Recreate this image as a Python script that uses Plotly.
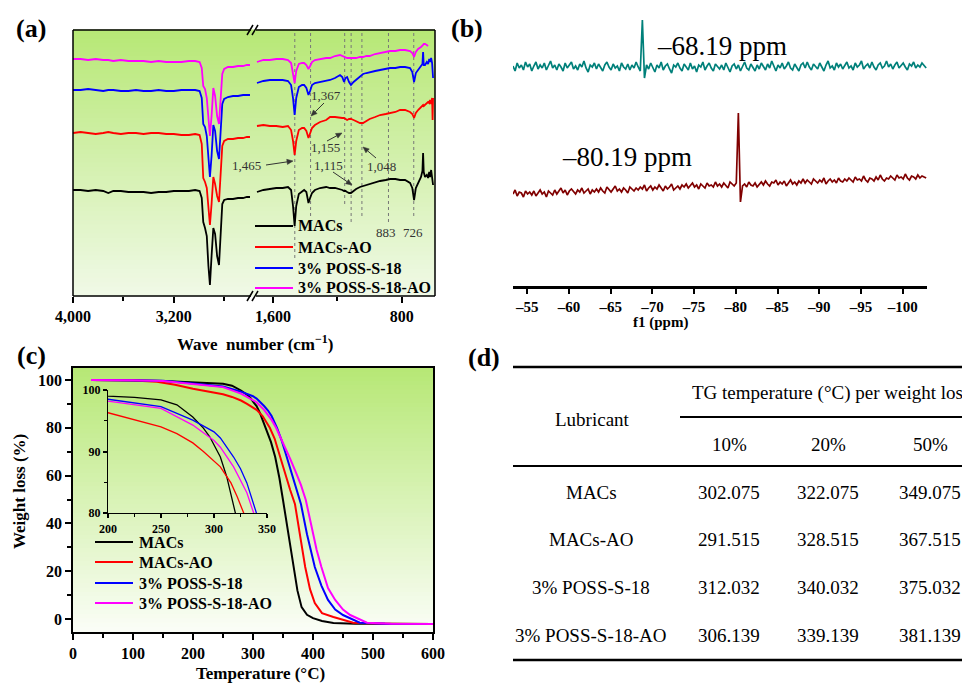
import math
import plotly.graph_objects as go

# The page body has an 8px margin, so the figure is 8px smaller than the window
# and every reference pixel position is shifted by 8px.
OFF = 8
FIG_W, FIG_H = 970 - OFF, 683 - OFF
SERIF = "Liberation Serif"

# ------------------------------------------------------------------ data
SERIES = ["MACs", "MACs-AO", "3% POSS-S-18", "3% POSS-S-18-AO"]
COLORS = ["#000000", "#ff0000", "#0000ff", "#ff00ff"]

# (a) FTIR, offset transmittance (a.u.)
WN_HIGH = [4000, 3940, 3880, 3820, 3760, 3720, 3680, 3620, 3560, 3500, 3440, 3380, 3320,
           3260, 3200, 3140, 3080, 3030, 2995, 2978, 2966, 2952, 2938, 2925, 2913, 2900,
           2886, 2872, 2856, 2841, 2828, 2815, 2800, 2770, 2730, 2690, 2650, 2620, 2595]
IR_HIGH_MACS = [106, 106, 105, 106, 105, 103, 105, 105, 104, 104, 104, 103, 104, 104, 105, 105,
                105, 106, 105, 98, 74, 68, 60, 30, 11, 40, 68, 62, 40, 31, 60, 92, 96, 97, 97,
                98, 98, 99, 99]
IR_HIGH_AO = [163, 164, 163, 162, 163, 164, 163, 162, 163, 163, 162, 163, 163, 162, 162, 161,
              161, 162, 161, 152, 118, 114, 108, 85, 71, 92, 119, 112, 100, 94, 120, 150, 155,
              157, 157, 158, 158, 159, 159]
IR_HIGH_S18 = [206, 206, 207, 206, 205, 206, 206, 205, 205, 206, 205, 205, 206, 205, 205, 206,
               206, 206, 205, 198, 172, 169, 160, 135, 119, 140, 171, 165, 145, 137, 165, 192,
               197, 199, 200, 200, 201, 201, 201]
IR_HIGH_S18AO = [237, 237, 236, 237, 236, 236, 235, 236, 235, 235, 235, 234, 235, 234, 234, 234,
                 235, 235, 234, 228, 210, 207, 198, 175, 160, 180, 208, 200, 180, 172, 202, 222,
                 227, 229, 229, 230, 230, 231, 231]

WN_LOW = [1700, 1660, 1620, 1580, 1540, 1507, 1488, 1476, 1466, 1456, 1440, 1420, 1407, 1393,
          1380, 1370, 1358, 1340, 1308, 1270, 1246, 1215, 1184, 1170, 1159, 1150, 1140, 1128,
          1116, 1100, 1084, 1060, 1041, 1020, 1000, 966, 935, 900, 873, 840, 811, 780, 749,
          735, 724, 713, 699, 681, 672, 668, 664, 656, 645, 637, 630, 625, 618, 612, 609, 606]
IR_LOW_MACS = [104, 106, 107, 108, 108, 109, 106, 90, 70, 90, 102, 105, 106, 104, 93, 98, 103,
               106, 108, 109, 108, 108, 107, 106, 105, 105, 104, 103, 103, 105, 107, 109, 110,
               111, 112, 114, 115, 116, 117, 117, 116, 116, 113, 108, 96, 108, 113, 119, 125,
               143, 124, 119, 121, 118, 124, 119, 126, 117, 115, 111]
IR_LOW_AO = [170, 171, 170, 170, 169, 170, 166, 155, 141, 155, 166, 168, 168, 165, 158, 162, 168,
             171, 174, 176, 179, 179, 178, 178, 178, 177, 176, 177, 177, 176, 175, 173, 173, 175,
             177, 179, 181, 182, 183, 184, 186, 186, 184, 182, 178, 183, 186, 189, 190, 191,
             190, 191, 193, 194, 193, 196, 192, 198, 176, 198]
IR_LOW_S18 = [213, 215, 216, 216, 216, 215, 211, 198, 181, 198, 209, 211, 211, 208, 201, 205,
              211, 213, 214, 215, 216, 218, 221, 219, 214, 218, 219, 214, 211, 214, 216, 219,
              222, 223, 224, 225, 226, 227, 228, 228, 229, 229, 228, 224, 214, 223, 226, 229,
              232, 244, 231, 231, 234, 232, 237, 234, 238, 233, 225, 218]
IR_LOW_S18AO = [234, 236, 236, 237, 237, 236, 233, 224, 213, 225, 232, 233, 233, 231, 227, 230,
                234, 236, 237, 238, 238, 240, 241, 240, 239, 239, 238, 238, 238, 238, 238, 239,
                239, 240, 240, 242, 243, 244, 245, 245, 246, 246, 245, 243, 239, 244, 247, 249,
                250, 251, 252, 252, 251, 250, None, None, None, None, None, None]

PEAK_WN = [1465, 1367, 1155, 1115, 1048, 883, 726]
PEAK_LABELS = ["1,465", "1,367", "1,155", "1,115", "1,048", "883", "726"]
PEAK_LINE_BOTTOM = [36, 79, 89, 74, 78, 71, 78]

# (b) 29Si NMR (intensity, a.u.), sampled every 0.25 ppm from -53.3 ppm
NMR_START, NMR_STEP = -53.3, -0.25
NMR_TOP = [220, 215, 223, 218, 221, 216, 224, 219, 222, 215, 220, 224, 217, 221, 218, 223, 216, 220, 225, 218,
           221, 216, 222, 219, 215, 223, 218, 221, 224, 217, 220, 216, 222, 219, 225, 218, 214, 221, 219, 223,
           217, 222, 218, 215, 221, 224, 219, 216, 222, 218, 220, 215, 223, 219, 217, 222, 216, 221, 218, 224,
           219, 215, 266, 208, 221, 217, 223, 219, 214, 221, 218, 224, 216, 220, 222, 217, 213, 221, 219, 223,
           218, 215, 222, 219, 216, 223, 217, 220, 214, 221, 219, 224, 216, 220, 223, 218, 215, 222, 219, 217,
           221, 216, 223, 218, 214, 220, 222, 217, 221, 215, 219, 224, 218, 216, 222, 219, 215, 221, 217, 223,
           220, 216, 222, 218, 225, 219, 215, 221, 218, 223, 217, 220, 224, 218, 216, 222, 219, 215, 221, 223,
           218, 224, 219, 216, 222, 220, 217, 223, 219, 215, 221, 225, 218, 220, 216, 223, 219, 222, 217, 221,
           224, 218, 220, 216, 223, 219, 221, 225, 217, 220, 222, 218, 224, 219, 216, 221, 223, 218, 220, 225,
           219, 222, 217, 221, 224, 218, 220, 223, 219, 216, 222, 220, 224, 218, 221, 219, 223, 220, 218]
NMR_BOTTOM = [92, 96, 90, 94, 93, 89, 95, 92, 94, 91, 95, 90, 93, 96, 92, 94, 89, 95, 93, 91,
              96, 92, 95, 98, 93, 96, 91, 95, 97, 94, 92, 96, 94, 98, 93, 95, 97, 92, 96, 94,
              97, 94, 98, 95, 93, 99, 96, 94, 97, 100, 95, 97, 94, 98, 96, 93, 99, 97, 95, 98,
              96, 99, 97, 101, 95, 98, 100, 96, 99, 97, 101, 98, 95, 100, 97, 99, 102, 96, 98, 100,
              97, 101, 99, 102, 98, 100, 103, 99, 101, 97, 102, 100, 98, 103, 100, 101, 99, 104, 100, 102,
              99, 103, 101, 98, 104, 102, 100, 103, 173, 84, 100, 102, 99, 104, 101, 100, 103, 99, 102, 104,
              101, 105, 102, 100, 104, 103, 106, 101, 104, 102, 105, 100, 103, 106, 102, 104, 101, 105, 103, 107,
              103, 106, 104, 102, 107, 105, 103, 106, 104, 108, 102, 105, 107, 104, 106, 103, 108, 105, 104, 107,
              105, 108, 106, 104, 109, 106, 107, 105, 110, 106, 104, 108, 107, 105, 109, 106, 111, 107, 105, 108,
              107, 110, 108, 106, 111, 108, 109, 107, 112, 108, 106, 110, 109, 107, 111, 108, 110, 109, 108]
NMR_LABELS = ["–68.19 ppm", "–80.19 ppm"]
NMR_TICKS = [-55, -60, -65, -70, -75, -80, -85, -90, -95, -100]

# (c) TGA
TGA_T_MACS = [30, 60, 100, 150, 200, 225, 250, 265, 280, 290, 296, 302, 306, 312, 318, 322,
              330, 337, 344, 350, 356, 362, 367, 374, 381, 390, 400, 415, 434, 470, 520, 600]
TGA_W_MACS = [100, 100, 99.9, 99.6, 99.0, 98.8, 98.4, 97.6, 95.6, 93.8, 92.4, 90.3, 89.1, 85.9,
              82.1, 79.8, 74, 67.8, 59, 49.8, 40, 31, 21.8, 12, 5, 1.8, 0.4, -0.8, -1.6, -1.9,
              -2.0, -2.1]
TGA_T_AO = [30, 60, 100, 140, 170, 200, 225, 250, 265, 280, 290, 296, 306, 316, 322, 328, 336,
            345, 355, 362, 370, 378, 387, 395, 403, 415, 434, 467, 520, 600]
TGA_W_AO = [100, 100, 99.8, 99.2, 98.0, 96.3, 95.2, 94.0, 92.9, 91.4, 90.0, 89.1, 87.5, 84.9,
            82.6, 80.0, 75.5, 68, 59, 54, 48, 36, 21.8, 12.5, 6.7, 2.5, 0.9, -1.5, -1.9, -2.1]
TGA_T_S18 = [30, 60, 100, 150, 200, 250, 280, 300, 306, 312, 318.5, 325, 331, 340, 348, 356,
             364, 372, 380, 390, 403, 414, 425, 437, 450, 478, 520, 600]
TGA_W_S18 = [100, 100, 99.9, 99.7, 98.5, 97.3, 95.1, 93.2, 92.2, 90.8, 89.1, 87.2, 84.9, 80.0,
             74.5, 68, 61.5, 55, 48, 35.5, 21.8, 14, 8, 4, 1.7, -1.5, -1.9, -2.1]
TGA_T_S18AO = [30, 60, 100, 150, 200, 250, 280, 300, 306, 318.5, 331, 338.5, 345, 352, 362,
               372, 380, 388, 398, 406, 414, 425, 437, 450, 462, 490, 530, 600]
TGA_W_S18AO = [100, 100, 99.9, 99.6, 98.2, 97.0, 94.3, 91.8, 90.7, 87.5, 83.3, 80.0, 76.5, 72.5,
               67, 61, 56, 49.8, 38.5, 29, 21.8, 13, 8, 4, 1.7, -1.5, -1.9, -2.1]

# (d) table
TABLE_HEADER = "TG temperature (°C) per weight loss"
TABLE_COLS = ["10%", "20%", "50%"]
TG_10 = ["302.075", "291.515", "312.032", "306.139"]
TG_20 = ["322.075", "328.515", "340.032", "339.139"]
TG_50 = ["349.075", "367.515", "375.032", "381.139"]

IR_HIGH = [IR_HIGH_MACS, IR_HIGH_AO, IR_HIGH_S18, IR_HIGH_S18AO]
IR_LOW = [IR_LOW_MACS, IR_LOW_AO, IR_LOW_S18, IR_LOW_S18AO]
TGA_T = [TGA_T_MACS, TGA_T_AO, TGA_T_S18, TGA_T_S18AO]
TGA_W = [TGA_W_MACS, TGA_W_AO, TGA_W_S18, TGA_W_S18AO]


# ------------------------------------------------------------------ helpers
def px(x):
    return (x - OFF) / FIG_W


def py(y):
    return 1 - (y - OFF) / FIG_H


def font(size, bold=False, color="black"):
    return dict(family=SERIF, size=size, color=color, weight="bold" if bold else "normal")


def ann(text, x, y, size, bold=False, xanchor="center", yanchor="middle", color="black", angle=0):
    return dict(text=text, x=px(x), y=py(y), xref="paper", yref="paper", showarrow=False,
                xanchor=xanchor, yanchor=yanchor, font=font(size, bold, color), textangle=angle)


def pline(x0, y0, x1, y1, color="black", width=1.5, layer="above", dash=None):
    return dict(type="line", xref="paper", yref="paper", x0=px(x0), y0=py(y0), x1=px(x1),
                y1=py(y1), line=dict(color=color, width=width, dash=dash), layer=layer)


def arrow_shapes(xh, yh, xt, yt, color="#333333", head=6.0, half=2.6):
    dx, dy = xh - xt, yh - yt
    n = math.hypot(dx, dy)
    ux, uy = dx / n, dy / n
    bx, by = xh - ux * head, yh - uy * head
    p1 = (bx - uy * half, by + ux * half)
    p2 = (bx + uy * half, by - ux * half)
    path = "M %f,%f L %f,%f L %f,%f Z" % (px(xh), py(yh), px(p1[0]), py(p1[1]),
                                          px(p2[0]), py(p2[1]))
    return [pline(xt, yt, bx, by, color=color, width=1),
            dict(type="path", xref="paper", yref="paper", path=path, fillcolor=color,
                 line=dict(color=color, width=0.5), layer="above")]


def gradient(x0, x1, y0, y1, top, bot, n=60):
    out = []
    h = (y1 - y0) / n
    for i in range(n):
        t = i / (n - 1)
        c = tuple(round(top[k] + (bot[k] - top[k]) * t) for k in range(3))
        out.append(dict(type="rect", xref="paper", yref="paper", x0=px(x0), x1=px(x1),
                        y0=py(y0 + i * h - 0.5), y1=py(y0 + (i + 1) * h + 0.5),
                        fillcolor="rgb(%d,%d,%d)" % c, line=dict(width=0), layer="below"))
    return out


fig = go.Figure()

# ------------------------------------------------------------------ traces
for i in range(4):
    fig.add_trace(go.Scatter(x=WN_HIGH, y=IR_HIGH[i], xaxis="x", yaxis="y", mode="lines",
                             line=dict(color=COLORS[i], width=1.8), name=SERIES[i]))
    fig.add_trace(go.Scatter(x=WN_LOW, y=IR_LOW[i], xaxis="x2", yaxis="y", mode="lines",
                             line=dict(color=COLORS[i], width=1.8), name=SERIES[i],
                             connectgaps=False))

fig.add_trace(go.Scatter(x0=NMR_START, dx=NMR_STEP, y=NMR_TOP, xaxis="x3", yaxis="y3",
                         mode="lines", line=dict(color="#00807a", width=1.7)))
fig.add_trace(go.Scatter(x0=NMR_START, dx=NMR_STEP, y=NMR_BOTTOM, xaxis="x3", yaxis="y3",
                         mode="lines", line=dict(color="#800000", width=1.7)))

for i in range(4):
    fig.add_trace(go.Scatter(x=TGA_T[i], y=TGA_W[i], xaxis="x4", yaxis="y4", mode="lines",
                             line=dict(color=COLORS[i], width=2.0), name=SERIES[i]))
for i in range(4):
    fig.add_trace(go.Scatter(x=TGA_T[i], y=TGA_W[i], xaxis="x5", yaxis="y5", mode="lines",
                             line=dict(color=COLORS[i], width=1.3), name=SERIES[i]))

# ------------------------------------------------------------------ shapes
shapes = []
shapes += gradient(73, 435, 30, 296, (183, 232, 118), (240, 249, 230))
shapes += gradient(73, 433, 368, 632, (183, 232, 118), (250, 253, 246))

for wn, bot in zip(PEAK_WN, PEAK_LINE_BOTTOM):
    shapes.append(dict(type="line", xref="x2", yref="y", x0=wn, x1=wn, y0=263, y1=bot,
                       line=dict(color="#777777", width=1, dash="dot"), layer="below"))

# frame of (a) with axis break
shapes += [pline(73, 30, 73, 296), pline(435, 30, 435, 296),
           pline(73, 30, 251, 30), pline(256, 30, 435, 30),
           pline(73, 296, 251, 296), pline(256, 296, 435, 296)]
for yb in (30, 296):
    shapes.append(pline(247, yb + 5, 253, yb - 5, width=1.5))
    shapes.append(pline(252, yb + 5, 258, yb - 5, width=1.5))

# peak-label arrows in (a)
for xh, yh, xt, yt in [(293, 161, 266, 165), (311, 116, 324, 103), (342, 133, 327, 141),
                       (352, 185, 333, 172), (363, 147, 376, 158)]:
    shapes += arrow_shapes(xh, yh, xt, yt)

# legend lines
for i, yy in enumerate([226, 247, 268, 288]):
    shapes.append(pline(255, yy, 293, yy, color=COLORS[i], width=2))
for i, yy in enumerate([542, 562, 583, 603]):
    shapes.append(pline(95, yy, 133, yy, color=COLORS[i], width=2.2))

# table rules
shapes += [pline(513, 367, 970, 367, width=2.5), pline(680, 417, 970, 417, width=2),
           pline(513, 466, 970, 466, width=2), pline(513, 660, 970, 660, width=2.5)]

# ------------------------------------------------------------------ annotations
anns = []
anns += [ann("(a)", 31, 28, 26, True), ann("(b)", 467, 28, 26, True),
         ann("(c)", 31, 355, 26, True), ann("(d)", 484, 357, 26, True)]

anns.append(ann("Wave  number (cm<sup>−1</sup>)", 255, 343, 17, True))
for i, yy in enumerate([226, 247, 268, 288]):
    anns.append(ann(SERIES[i], 296, yy, 16, True, xanchor="left"))

lab_pos = {"1,465": (246, 165), "1,367": (326, 96), "1,155": (325, 148), "1,115": (328, 165),
           "1,048": (381, 167), "883": (386, 232), "726": (413, 233)}
for lab in PEAK_LABELS:
    x, y = lab_pos[lab]
    anns.append(ann(lab, x, y, 13, False, color="#333333"))

anns.append(ann(NMR_LABELS[0], 655, 46, 27, False, xanchor="left"))
anns.append(ann(NMR_LABELS[1], 560, 157, 27, False, xanchor="left"))
anns.append(ann("f1 (ppm)", 660, 322, 15, True))

anns.append(ann("Weight loss (%)", 19, 492, 17, True, angle=-90))
anns.append(ann("Temperature (°C)", 260, 673, 17, True))
for i, yy in enumerate([542, 562, 583, 603]):
    anns.append(ann(SERIES[i], 137, yy, 16, True, xanchor="left"))

anns.append(ann("Lubricant", 592, 419, 19))
anns.append(ann(TABLE_HEADER, 690, 393, 19, xanchor="left"))
for c, xx in zip(TABLE_COLS, [729, 828, 930]):
    anns.append(ann(c, xx, 444, 19))
for r, yy in enumerate([492, 539, 587, 635]):
    anns.append(ann(SERIES[r], 591, yy, 19))
    anns.append(ann(TG_10[r], 729, yy, 19))
    anns.append(ann(TG_20[r], 828, yy, 19))
    anns.append(ann(TG_50[r], 930, yy, 19))

# ------------------------------------------------------------------ layout
tick_common = dict(showgrid=False, zeroline=False, ticks="outside", tickcolor="black",
                   tickwidth=1.5, automargin=False)

fig.update_layout(
    width=FIG_W, height=FIG_H, margin=dict(l=0, r=0, t=0, b=0, pad=0, autoexpand=False),
    paper_bgcolor="white", plot_bgcolor="rgba(0,0,0,0)", showlegend=False,
    xaxis=dict(domain=[px(73), px(251)], range=[4000, 2587], anchor="y",
               tickmode="array", tickvals=[4000, 3200], ticktext=["4,000", "3,200"],
               ticklen=6, tickfont=font(16, True), showline=False,
               minor=dict(tickmode="array", tickvals=[3600, 2800], ticks="outside", ticklen=4,
                          tickwidth=1.5, tickcolor="black"), **tick_common),
    xaxis2=dict(domain=[px(256), px(435)], range=[1706, 594], anchor="y",
                tickmode="array", tickvals=[1600, 800], ticktext=["1,600", "800"],
                ticklen=6, tickfont=font(16, True), showline=False,
                minor=dict(tickmode="array", tickvals=[1200], ticks="outside", ticklen=4,
                           tickwidth=1.5, tickcolor="black"), **tick_common),
    yaxis=dict(domain=[py(296), py(30)], range=[0, 266], anchor="x", visible=False),
    xaxis3=dict(domain=[px(513), px(927)], range=[-53.3, -102.9], anchor="y3",
                tickmode="array", tickvals=NMR_TICKS,
                ticktext=["–%d" % (-v) for v in NMR_TICKS], ticklen=5,
                tickfont=font(15, True), showline=True, linewidth=2.5, linecolor="black",
                **tick_common),
    yaxis3=dict(domain=[py(286), py(15)], range=[0, 271], anchor="x3", visible=False),
    xaxis4=dict(domain=[px(73), px(433)], range=[0, 600], anchor="y4", tickmode="linear",
                tick0=0, dtick=100, ticklen=6, tickfont=font(16, True), showline=True,
                mirror=True, linewidth=1.5, linecolor="black",
                minor=dict(dtick=50, ticks="outside", ticklen=4, tickwidth=1.5,
                           tickcolor="black"), **tick_common),
    yaxis4=dict(domain=[py(632), py(368)], range=[-5.4, 105], anchor="x4", tickmode="array",
                tickvals=[0, 20, 40, 60, 80, 100], ticklen=6, tickfont=font(16, True),
                showline=True, mirror=True, linewidth=1.5, linecolor="black",
                minor=dict(tickmode="array", tickvals=[10, 30, 50, 70, 90], ticks="outside",
                           ticklen=4, tickwidth=1.5, tickcolor="black"), **tick_common),
    xaxis5=dict(domain=[px(108), px(267)], range=[200, 350], anchor="y5", tickmode="array",
                tickvals=[200, 250, 300, 350], ticklen=4, tickfont=font(12, True),
                showline=True, linewidth=1.3, linecolor="black",
                minor=dict(tickmode="array", tickvals=[225, 275, 325], ticks="outside",
                           ticklen=3, tickwidth=1.2, tickcolor="black"), **tick_common),
    yaxis5=dict(domain=[py(513), py(390)], range=[80, 100], anchor="x5", tickmode="array",
                tickvals=[80, 90, 100], ticklen=4, tickfont=font(12, True),
                showline=True, linewidth=1.3, linecolor="black",
                minor=dict(tickmode="array", tickvals=[85, 95], ticks="outside", ticklen=3,
                           tickwidth=1.2, tickcolor="black"), **tick_common),
    shapes=shapes, annotations=anns,
)

fig.write_html("out.html")
